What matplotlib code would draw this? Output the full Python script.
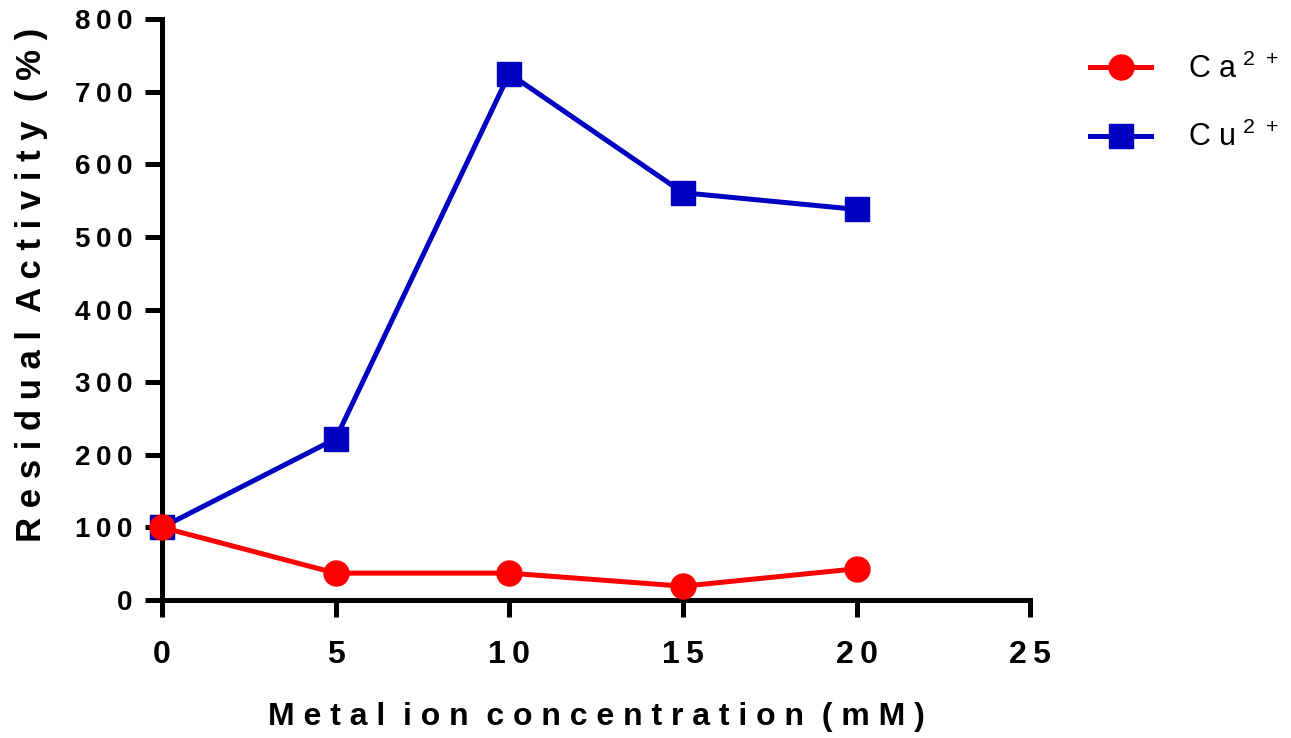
import matplotlib
matplotlib.use("Agg")
import matplotlib.pyplot as plt

# metal ion concentration (mM) and residual activity (%)
conc = [0, 5, 10, 15, 20]
ca_activity = [100, 37, 37, 19, 43]
cu_activity = [100, 222, 725, 561, 538]

x_ticks = [0, 5, 10, 15, 20, 25]
y_ticks = [0, 100, 200, 300, 400, 500, 600, 700, 800]

RED = "#FF0000"
BLUE = "#0000C0"


def spaced(s, sep=" ", word_sep="  "):
    # wide letter spacing, a bit more between words
    return word_sep.join(sep.join(w) for w in s.split(" "))


plt.rcParams["font.family"] = ["Liberation Sans", "DejaVu Sans"]
plt.rcParams["mathtext.fontset"] = "custom"
plt.rcParams["mathtext.rm"] = "Liberation Sans"

fig = plt.figure(figsize=(12.91, 7.38), dpi=100)
ax = fig.add_axes([0.1255, 0.187, 0.798 - 0.1255, 0.974 - 0.187])

ax.plot(conc, cu_activity, color=BLUE, lw=3.6, marker="s", ms=17,
        label="C u$^{\\mathregular{\\ 2\\ +}}$", clip_on=False, zorder=3)
ax.plot(conc, ca_activity, color=RED, lw=3.6, marker="o", ms=18,
        label="C a$^{\\mathregular{\\ 2\\ +}}$", clip_on=False, zorder=4)

ax.set_xlim(0, 25)
ax.set_ylim(0, 800)
ax.set_xticks(x_ticks)
ax.set_xticklabels([spaced(str(t), "\u2009") for t in x_ticks],
                   fontweight="bold", fontsize=23)
ax.set_yticks(y_ticks)
ax.set_yticklabels([spaced(str(t), "\u2009") for t in y_ticks],
                   fontweight="bold", fontsize=20)

for side in ["top", "right"]:
    ax.spines[side].set_visible(False)
for side in ["left", "bottom"]:
    ax.spines[side].set_linewidth(3.6)
ax.tick_params(width=3.6, length=12)
ax.tick_params(axis="x", pad=17)
ax.tick_params(axis="y", pad=9)

ax.set_ylabel(spaced("Residual Activity (%)"), fontweight="bold", fontsize=25)
ax.yaxis.set_label_coords(-0.131, 0.542)
ax.set_xlabel(spaced("Metal ion concentration (mM)"), fontweight="bold",
              fontsize=23, labelpad=23)

handles, labels = ax.get_legend_handles_labels()
ax.legend(handles[::-1], labels[::-1], loc="upper left", bbox_to_anchor=(1.069, 0.941),
          borderpad=0, borderaxespad=0, frameon=False, fontsize=22,
          handlelength=2.0, handletextpad=1.2, labelspacing=1.22)

fig.savefig("out.png", dpi=100)
